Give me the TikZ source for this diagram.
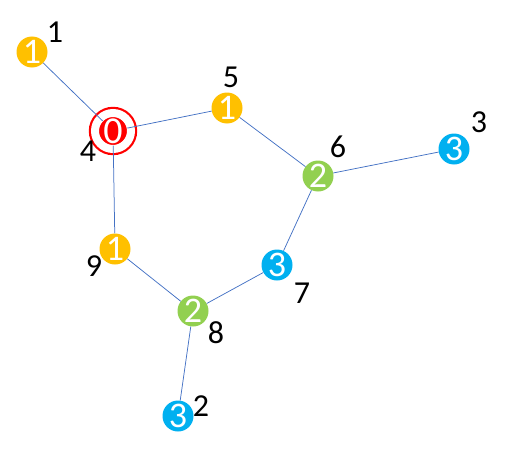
\documentclass[tikz,border=0pt]{standalone}
\usepackage{fontspec}
\setmainfont{Carlito}
\definecolor{vyellow}{RGB}{255,192,0}
\definecolor{vgreen}{RGB}{146,208,80}
\definecolor{vblue}{RGB}{0,176,240}
\definecolor{vred}{RGB}{255,0,0}
\definecolor{edgeblue}{RGB}{68,114,196}

\begin{document}
\begin{tikzpicture}[x=1pt, y=-1pt,
    vert/.style={circle, draw=none, text=white, minimum size=31pt, inner sep=0pt, font=\fontsize{36}{36}\selectfont},
    root/.style={vert, fill=vred, draw=vred, line width=2.2pt, double=white, double distance=8pt, minimum size=36pt, font=\fontsize{38}{38}\selectfont},
    tag/.style={inner sep=0pt, text=black, font=\fontsize{32}{32}\selectfont},
    edge/.style={draw=edgeblue, line width=0.75pt},
    rootedge/.style={edge, shorten <=-4.5pt}
  ]
  \useasboundingbox (0,0) rectangle (508,460);

  % vertices
  \node[vert, fill=vyellow] (v1) at (32,52) {1};
  \node[root] (v4) at (113,131) {0};
  \node[vert, fill=vyellow] (v5) at (227,108) {1};
  \node[vert, fill=vgreen] (v6) at (318,176) {2};
  \node[vert, fill=vblue] (v3) at (454,149) {3};
  \node[vert, fill=vblue] (v7) at (277,265) {3};
  \node[vert, fill=vyellow] (v9) at (115,249) {1};
  \node[vert, fill=vgreen] (v8) at (193,311) {2};
  \node[vert, fill=vblue] (v2) at (178,416) {3};

  % ids
  \node[tag] (t1) at (55,32) {1};
  \node[tag] (t4) at (88,151) {4};
  \node[tag] (t5) at (231,77) {5};
  \node[tag] (t6) at (338,147) {6};
  \node[tag] (t3) at (479,122) {3};
  \node[tag] (t7) at (302,293) {7};
  \node[tag] (t9) at (94,266) {9};
  \node[tag] (t8) at (216,333) {8};
  \node[tag] (t2) at (201,406) {2};

  % edges
  \draw[rootedge] (v4) -- (v1);
  \draw[rootedge] (v4) -- (v5);
  \draw[rootedge] (v4) -- (v9);
  \draw[edge] (v5) -- (v6);
  \draw[edge] (v6) -- (v3);
  \draw[edge] (v6) -- (v7);
  \draw[edge] (v7) -- (v8);
  \draw[edge] (v9) -- (v8);
  \draw[edge] (v8) -- (v2);
\end{tikzpicture}
\end{document}
